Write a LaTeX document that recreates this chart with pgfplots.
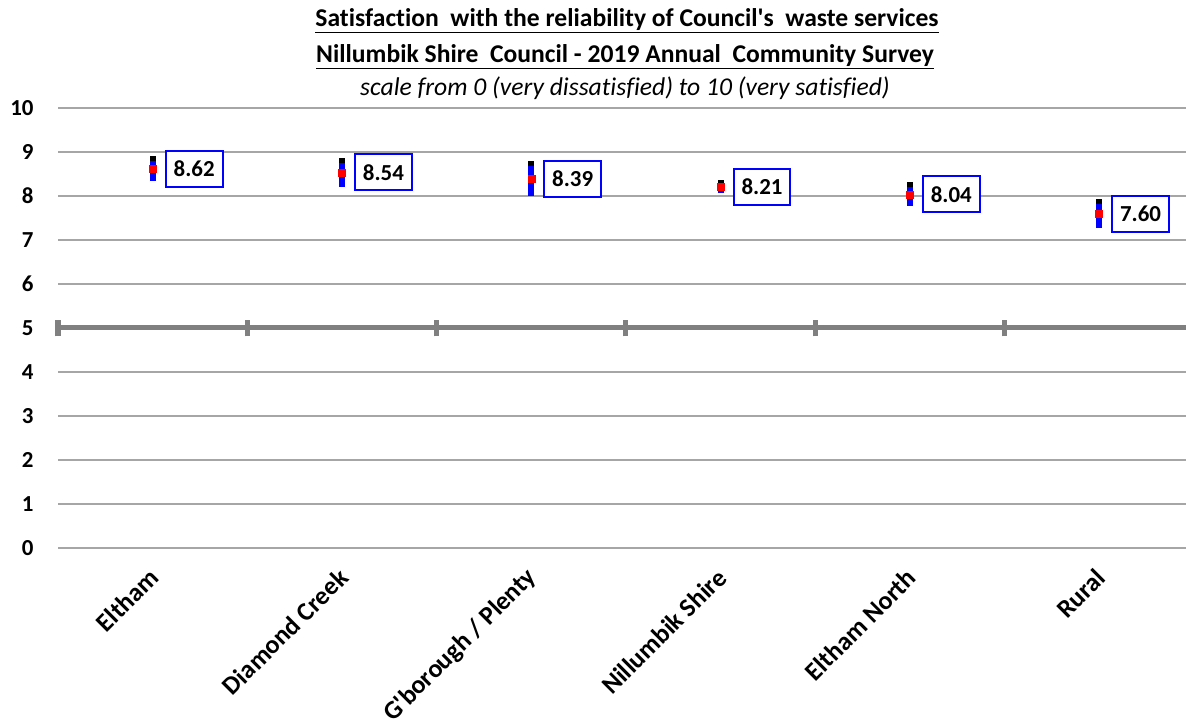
\documentclass[border=0pt]{standalone}
\usepackage{fontspec}
\setmainfont{Carlito}[Ligatures=NoCommon]
\usepackage{pgfplots}
\pgfplotsset{compat=1.18}
\usepackage{pgfplotstable}

\pgfplotstableread{
x y ep epb em
0 8.62 0.29 0.18 0.28
1 8.54 0.33 0.22 0.34
2 8.39 0.41 0.30 0.39
3 8.21 0.15 0.04 0.14
4 8.04 0.28 0.17 0.27
5 7.60 0.33 0.22 0.33
}\data

\definecolor{gridgray}{RGB}{166,166,166}
\definecolor{fivegray}{RGB}{128,128,128}

\begin{document}
\begin{tikzpicture}
\useasboundingbox (0,0) rectangle (1186bp,726bp);
\node[font=\bfseries\fontsize{25.7}{28}\selectfont] at (627bp,705bp) {\underline{Satisfaction\ \ with the reliability of Council\textquotesingle s\ \ waste services}};
\node[font=\bfseries\fontsize{25.7}{28}\selectfont] at (625bp,669bp) {\underline{Nillumbik Shire\ \ Council - 2019 Annual\ \ Community Survey}};
\node[font=\itshape\fontsize{25.7}{28}\selectfont] at (625bp,638bp) {scale from 0 (very dissatisfied) to 10 (very satisfied)};
\begin{axis}[
  at={(58bp,178bp)}, anchor=south west,
  scale only axis, width=1128bp, height=440bp,
  xmin=-0.5, xmax=5.459, ymin=0, ymax=10,
  /pgf/number format/assume math mode=true,
  ytick={0,1,...,10},
  xtick={0,1,2,3,4,5},
  xticklabels={Eltham,Diamond Creek,G\textquotesingle borough / Plenty,Nillumbik Shire,Eltham North,Rural},
  ymajorgrids, grid style={gridgray, line width=1.5bp},
  axis line style={draw=none},
  major tick length=0pt,
  tick label style={font=\bfseries\fontsize{23}{25}\selectfont},
  yticklabel style={xshift=-21bp},
  xticklabel style={font=\bfseries\fontsize{26}{28}\selectfont, xshift=4bp, yshift=-23bp, rotate=45, anchor=east},
  clip=false,
]
\addplot[fivegray, line width=5bp, forget plot] coordinates {(-0.5,5) (5.459,5)};
\pgfplotsinvokeforeach{-0.5,0.5,1.5,2.5,3.5,4.5}{
  \draw[fivegray, line width=5bp] (axis cs:#1,4.81) -- (axis cs:#1,5.19);
}
\addplot[draw=none, mark=none, error bars/.cd, y dir=plus, y explicit,
  error bar style={black, line width=6bp}, error mark=none]
  table[x=x, y=y, y error plus=ep] {\data};
\addplot[draw=none, mark=none, error bars/.cd, y dir=both, y explicit,
  error bar style={blue, line width=6bp}, error mark=none]
  table[x=x, y=y, y error plus=epb, y error minus=em] {\data};
\addplot[only marks, mark=square*, mark size=3.5bp, color=red,
  point meta=y,
  nodes near coords={\pgfmathprintnumber[fixed, fixed zerofill, precision=2, assume math mode=true]{\pgfplotspointmeta}},
  nodes near coords style={font=\bfseries\fontsize{23}{25}\selectfont, text=black,
    draw=blue, line width=2bp, fill=white, anchor=west, xshift=12bp,
    inner xsep=8bp, inner ysep=10bp}]
  table[x=x, y=y] {\data};
\end{axis}
\end{tikzpicture}
\end{document}
